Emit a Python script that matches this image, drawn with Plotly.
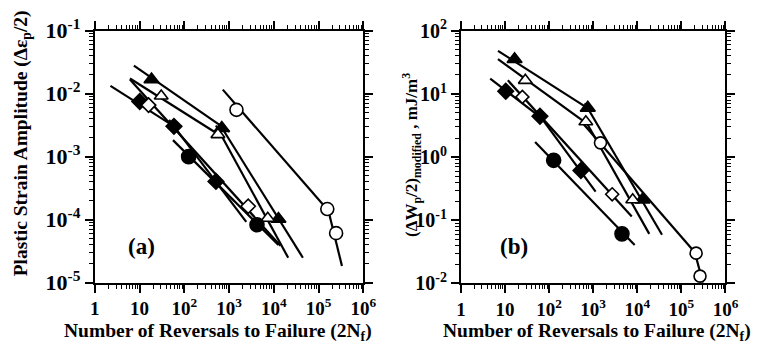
import plotly.graph_objects as go

# ---------------- Panel (a): plastic strain amplitude ----------------
a_tri_f_x = [18.5, 689, 1.27e4]
a_tri_f_y = [1.68e-2, 2.84e-3, 1.02e-4]
a_tri_f_fit1_x = [7.47, 1031]
a_tri_f_fit1_y = [2.79e-2, 2.48e-3]
a_tri_f_fit2_x = [623, 4.47e4]
a_tri_f_fit2_y = [3.24e-3, 2.48e-5]

a_tri_o_x = [30.5, 564, 7325]
a_tri_o_y = [9.2e-3, 2.24e-3, 1.05e-4]
a_tri_o_fit1_x = [6.1, 689]
a_tri_o_fit1_y = [1.74e-2, 2.09e-3]
a_tri_o_fit2_x = [510, 2.1e4]
a_tri_o_fit2_y = [3.13e-3, 2.48e-5]

a_cir_o_x = [1466, 1.57e5, 2.47e5]
a_cir_o_y = [5.54e-3, 1.47e-4, 6.1e-5]
a_cir_o_fit1_x = [725, 1.74e5]
a_cir_o_fit1_y = [1.16e-2, 1.33e-4]
a_cir_o_fit2_x = [1.65e5, 3.34e5]
a_cir_o_fit2_y = [1.42e-4, 1.83e-5]

a_dia_f_x = [10.1, 58.7, 510]
a_dia_f_y = [7.52e-3, 3.03e-3, 4.04e-4]
a_dia_f_fit1_x = [2.24, 68.2]
a_dia_f_fit1_y = [1.33e-2, 2.84e-3]
a_dia_f_fit2_x = [45.7, 2423]
a_dia_f_fit2_y = [3.84e-3, 9.2e-5]

a_dia_o_x = [15.9, 2679]
a_dia_o_y = [6.58e-3, 1.63e-4]
a_dia_o_fit_x = [6.1, 1.41e4]
a_dia_o_fit_y = [1.68e-2, 3.84e-5]

a_cir_f_x = [125, 4210]
a_cir_f_y = [1.0e-3, 8.3e-5]
a_cir_f_fit_x = [55.8, 1.27e4]
a_cir_f_fit_y = [1.83e-3, 3.97e-5]

# ---------------- Panel (b): modified plastic strain energy ----------------
b_tri_f_x = [16.5, 755, 1.31e4]
b_tri_f_y = [35.4, 6.0, 0.211]
b_tri_f_fit1_x = [6.94, 795]
b_tri_f_fit1_y = [47.9, 5.81]
b_tri_f_fit2_x = [648, 3.64e4]
b_tri_f_fit2_y = [7.10, 0.059]

b_tri_o_x = [28.9, 682, 7880]
b_tri_o_y = [16.4, 3.63, 0.211]
b_tri_o_fit1_x = [6.94, 718]
b_tri_o_fit1_y = [35.4, 3.40]
b_tri_o_fit2_x = [616, 1.87e4]
b_tri_o_fit2_y = [4.15, 0.061]

b_cir_o_x = [1465, 2.16e5, 2.65e5]
b_cir_o_y = [1.68, 0.0302, 0.0131]
b_cir_o_fit1_x = [616, 2.28e5]
b_cir_o_fit1_y = [3.28, 0.0282]
b_cir_o_fit2_x = [1.96e5, 3.09e5]
b_cir_o_fit2_y = [0.0334, 0.01035]

b_dia_f_x = [10.4, 62.1, 528]
b_dia_f_y = [11.0, 4.43, 0.615]
b_dia_f_fit1_x = [4.62, 76.2]
b_dia_f_fit1_y = [17.5, 3.88]
b_dia_f_fit2_x = [56.1, 1135]
b_dia_f_fit2_y = [4.91, 0.285]

b_dia_o_x = [24.8, 2700]
b_dia_o_y = [8.97, 0.258]
b_dia_o_fit_x = [11.6, 7490]
b_dia_o_fit_y = [16.4, 0.115]

b_cir_f_x = [127, 4497]
b_cir_f_y = [0.889, 0.061]
b_cir_f_fit_x = [48.2, 8730]
b_cir_f_fit_y = [1.74, 0.0408]

# ---------------- tick labels ----------------
x_tickvals = [1, 10, 100, 1e3, 1e4, 1e5, 1e6]
x_ticktext = ["1", "10", "10<sup>2</sup>", "10<sup>3</sup>", "10<sup>4</sup>",
              "10<sup>5</sup>", "10<sup>6</sup>"]
ya_tickvals = [1e-5, 1e-4, 1e-3, 1e-2, 1e-1]
ya_ticktext = ["10<sup>-5</sup>", "10<sup>-4</sup>", "10<sup>-3</sup>",
               "10<sup>-2</sup>", "10<sup>-1</sup>"]
yb_tickvals = [1e-2, 1e-1, 1, 10, 100]
yb_ticktext = ["10<sup>-2</sup>", "10<sup>-1</sup>", "10<sup>0</sup>",
               "10<sup>1</sup>", "10<sup>2</sup>"]

FONT = "Liberation Serif"
fig = go.Figure()


def fit(x, y, xa, ya):
    fig.add_trace(go.Scatter(x=x, y=y, mode="lines", xaxis=xa, yaxis=ya,
                             line=dict(color="black", width=2.2),
                             showlegend=False, hoverinfo="skip"))


def pts(x, y, xa, ya, symbol, filled, size):
    fig.add_trace(go.Scatter(
        x=x, y=y, mode="markers", xaxis=xa, yaxis=ya, showlegend=False,
        marker=dict(symbol=symbol, size=size,
                    color="black" if filled else "white",
                    line=dict(color="black", width=1.6))))


# panel (a) fits
for fx, fy in [(a_tri_f_fit1_x, a_tri_f_fit1_y), (a_tri_f_fit2_x, a_tri_f_fit2_y),
               (a_tri_o_fit1_x, a_tri_o_fit1_y), (a_tri_o_fit2_x, a_tri_o_fit2_y),
               (a_cir_o_fit1_x, a_cir_o_fit1_y), (a_cir_o_fit2_x, a_cir_o_fit2_y),
               (a_dia_f_fit1_x, a_dia_f_fit1_y), (a_dia_f_fit2_x, a_dia_f_fit2_y),
               (a_dia_o_fit_x, a_dia_o_fit_y), (a_cir_f_fit_x, a_cir_f_fit_y)]:
    fit(fx, fy, "x", "y")
pts(a_tri_f_x, a_tri_f_y, "x", "y", "triangle-up", True, 13)
pts(a_tri_o_x, a_tri_o_y, "x", "y", "triangle-up", False, 12)
pts(a_cir_o_x, a_cir_o_y, "x", "y", "circle", False, 13)
pts(a_dia_f_x, a_dia_f_y, "x", "y", "diamond", True, 12)
pts(a_dia_o_x, a_dia_o_y, "x", "y", "diamond", False, 11)
pts(a_cir_f_x, a_cir_f_y, "x", "y", "circle", True, 14)

# panel (b) fits
for fx, fy in [(b_tri_f_fit1_x, b_tri_f_fit1_y), (b_tri_f_fit2_x, b_tri_f_fit2_y),
               (b_tri_o_fit1_x, b_tri_o_fit1_y), (b_tri_o_fit2_x, b_tri_o_fit2_y),
               (b_cir_o_fit1_x, b_cir_o_fit1_y), (b_cir_o_fit2_x, b_cir_o_fit2_y),
               (b_dia_f_fit1_x, b_dia_f_fit1_y), (b_dia_f_fit2_x, b_dia_f_fit2_y),
               (b_dia_o_fit_x, b_dia_o_fit_y), (b_cir_f_fit_x, b_cir_f_fit_y)]:
    fit(fx, fy, "x2", "y2")
pts(b_tri_f_x, b_tri_f_y, "x2", "y2", "triangle-up", True, 13)
pts(b_tri_o_x, b_tri_o_y, "x2", "y2", "triangle-up", False, 12)
pts(b_cir_o_x, b_cir_o_y, "x2", "y2", "circle", False, 12)
pts(b_dia_f_x, b_dia_f_y, "x2", "y2", "diamond", True, 12)
pts(b_dia_o_x, b_dia_o_y, "x2", "y2", "diamond", False, 10)
pts(b_cir_f_x, b_cir_f_y, "x2", "y2", "circle", True, 14)

xtickfont = dict(family=FONT, size=19, color="black", weight="bold")
minor = dict(ticks="outside", ticklen=4, tickwidth=1.2, tickcolor="black",
             dtick="D1", showgrid=False)


def xaxis(domain, anchor):
    return dict(type="log", range=[0, 6], domain=domain, anchor=anchor,
                tickmode="array", tickvals=x_tickvals, ticktext=x_ticktext,
                ticks="outside", ticklen=8, tickwidth=1.6, tickcolor="black",
                showline=True, linecolor="black", linewidth=2, mirror="ticks",
                showgrid=False, zeroline=False, tickfont=xtickfont, minor=minor)


def yaxis(domain, anchor, rng, tv, tt, fsize):
    return dict(type="log", range=rng, domain=domain, anchor=anchor,
                tickmode="array", tickvals=tv, ticktext=tt,
                ticks="outside", ticklen=8, tickwidth=1.6, tickcolor="black",
                showline=True, linecolor="black", linewidth=2, mirror="ticks",
                showgrid=False, zeroline=False,
                tickfont=dict(family=FONT, size=fsize, color="black", weight="bold"),
                minor=minor, ticklabelstandoff=0)


W, H = 757, 359
xa_dom = [92 / W, 367 / W]
xb_dom = [467 / W, 738 / W]
ya_dom = [1 - 290 / H, 1 - 16 / H]
yb_dom = [1 - 291 / H, 1 - 16 / H]

titlefont = dict(family=FONT, size=19.5, color="black", weight="bold")
ya_titlefont = dict(family=FONT, size=19.5, color="black", weight="bold")
yb_titlefont = dict(family=FONT, size=17, color="black", weight="bold")
letterfont = dict(family=FONT, size=23, color="black", weight="bold")

fig.update_layout(
    width=W, height=H, margin=dict(l=0, r=0, t=0, b=0),
    paper_bgcolor="white", plot_bgcolor="white", showlegend=False,
    xaxis=xaxis(xa_dom, "y"),
    yaxis=yaxis(ya_dom, "x", [-5, -1], ya_tickvals, ya_ticktext, 22),
    xaxis2=xaxis(xb_dom, "y2"),
    yaxis2=yaxis(yb_dom, "x2", [-2, 2], yb_tickvals, yb_ticktext, 20),
    annotations=[
        dict(text="Number of Reversals to Failure (2N<sub>f</sub>)",
             x=218 / W, y=1 - 344 / H, xref="paper", yref="paper",
             showarrow=False, font=titlefont, xanchor="center", yanchor="middle"),
        dict(text="Number of Reversals to Failure (2N<sub>f</sub>)",
             x=606 / W, y=1 - 344 / H, xref="paper", yref="paper",
             showarrow=False, font=titlefont, xanchor="center", yanchor="middle"),
        dict(text="Plastic Strain Amplitude (Δε<sub>p</sub>/2)",
             x=17 / W, y=1 - 139 / H, xref="paper", yref="paper", textangle=-90,
             showarrow=False, font=ya_titlefont, xanchor="center", yanchor="middle"),
        dict(text="(ΔW<sub>p</sub>/2)<sub>modified</sub> , mJ/m<sup>3</sup>",
             x=417 / W, y=1 - 151 / H, xref="paper", yref="paper", textangle=-90,
             showarrow=False, font=yb_titlefont, xanchor="center", yanchor="middle"),
        dict(text="(a)", x=124 / W, y=1 - 267 / H, xref="paper", yref="paper",
             showarrow=False, font=letterfont),
        dict(text="(b)", x=538 / W, y=1 - 267 / H, xref="paper", yref="paper",
             showarrow=False, font=letterfont),
    ],
)

fig.write_html("out.html")
